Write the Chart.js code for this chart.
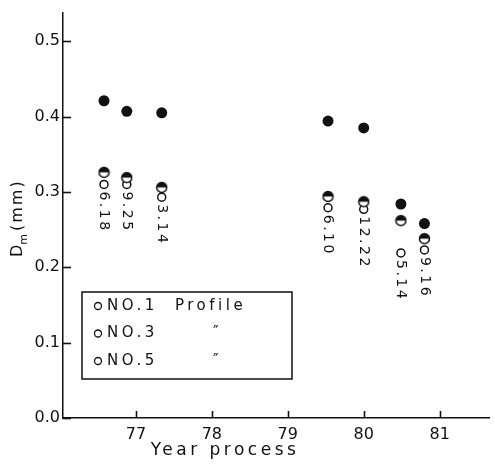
<!DOCTYPE html>
<html>
<head>
<meta charset="utf-8">
<script src="https://cdn.jsdelivr.net/npm/chart.js@4"></script>
<style>
  html, body { margin: 0; padding: 0; background: #fff; }
  #c { display: block; }
</style>
</head>
<body>
<canvas id="c" width="495" height="464"></canvas>
<script>
// ── Dm por perfil ao longo do processo ──

const years  = [76.58, 76.88, 77.34, 79.53, 80.0, 80.49, 80.8];
const no1    = [0.421, 0.407, 0.405, 0.394, 0.385, 0.284, 0.258];
const no3    = [0.326, 0.319, 0.306, 0.294, 0.287, 0.262, 0.238];
const no5    = [0.310, 0.310, 0.293, 0.279, 0.277, 0.219, 0.223];
const dates  = ['6.18', '9.25', '3.14', '6.10', '12.22', '5.14', '9.16'];
const xTicks = [77, 78, 79, 80, 81];
const yTicks = [0, 0.1, 0.2, 0.3, 0.4, 0.5];
const legendRows = [
  { name: 'NO.1', note: 'Profile' },
  { name: 'NO.3', note: '\u2033' },
  { name: 'NO.5', note: '\u2033' }
];

const FONT = '"DejaVu Sans", sans-serif';
const INK  = '#111';

// half filled marker (top half black)
function halfDot(r) {
  const c = document.createElement('canvas');
  const s = Math.ceil(r * 2 + 3);
  c.width = s; c.height = s;
  const g = c.getContext('2d');
  const m = s / 2;
  g.fillStyle = '#fff';
  g.beginPath(); g.arc(m, m, r, 0, Math.PI * 2); g.fill();
  g.fillStyle = INK;
  g.beginPath(); g.arc(m, m, r, Math.PI, 0); g.closePath(); g.fill();
  g.strokeStyle = INK; g.lineWidth = 1.5;
  g.beginPath(); g.arc(m, m, r, 0, Math.PI * 2); g.stroke();
  return c;
}

const pts = arr => years.map((x, i) => ({ x, y: arr[i] }));

// inward tick marks
const inwardTicks = {
  id: 'inwardTicks',
  afterDatasetsDraw(chart) {
    const ctx = chart.ctx;
    const xs = chart.scales.x, ys = chart.scales.y;
    const area = chart.chartArea;
    ctx.save();
    ctx.strokeStyle = INK;
    ctx.lineWidth = 1.6;
    yTicks.forEach(v => {
      const py = Math.round(ys.getPixelForValue(v)) + 0.5;
      ctx.beginPath(); ctx.moveTo(area.left, py); ctx.lineTo(area.left + 8, py); ctx.stroke();
    });
    xTicks.forEach(v => {
      const px = Math.round(xs.getPixelForValue(v)) + 0.5;
      ctx.beginPath(); ctx.moveTo(px, area.bottom); ctx.lineTo(px, area.bottom - 7); ctx.stroke();
    });
    ctx.restore();
  }
};

const decor = {
  id: 'decor',
  afterDraw(chart) {
    const { ctx, scales: { x, y } } = chart;
    ctx.save();
    ctx.strokeStyle = INK;
    ctx.fillStyle = INK;

    // date labels, written downwards below each open circle
    ctx.font = '14px ' + FONT;
    ctx.letterSpacing = '2.5px';
    ctx.textAlign = 'left';
    ctx.textBaseline = 'middle';
    dates.forEach((d, i) => {
      const px = x.getPixelForValue(years[i]);
      const py = y.getPixelForValue(no5[i]) + 7;
      ctx.save();
      ctx.translate(px, py);
      ctx.rotate(Math.PI / 2);
      ctx.fillText(d, 0, 0);
      ctx.restore();
    });

    // legend box
    ctx.lineWidth = 1.5;
    ctx.strokeRect(82, 292, 210, 87);
    ctx.font = '15px ' + FONT;
    ctx.letterSpacing = '3.5px';
    legendRows.forEach((r, i) => {
      const ly = 306 + i * 27.5;
      ctx.lineWidth = 1.3;
      ctx.beginPath(); ctx.arc(98, ly, 3.5, 0, Math.PI * 2); ctx.stroke();
      ctx.fillText(r.name, 107, ly);
      ctx.fillText(r.note, i === 0 ? 175 : 213, ly);
    });

    // axis titles
    ctx.font = '17px ' + FONT;
    ctx.letterSpacing = '3.5px';
    ctx.textAlign = 'center';
    ctx.fillText('Year process', 225, 451);

    ctx.save();
    ctx.translate(22, 257);
    ctx.rotate(-Math.PI / 2);
    ctx.textAlign = 'left';
    ctx.textBaseline = 'alphabetic';
    ctx.letterSpacing = '0px';
    ctx.font = '16px ' + FONT;
    ctx.fillText('D', 0, 0);
    let w = ctx.measureText('D').width;
    ctx.font = '11px ' + FONT;
    ctx.fillText('m', w, 5);
    w += ctx.measureText('m').width + 3;
    ctx.font = '16px ' + FONT;
    ctx.letterSpacing = '2px';
    ctx.fillText('(mm)', w, 0);
    ctx.restore();

    ctx.restore();
  }
};

new Chart(document.getElementById('c'), {
  type: 'scatter',
  data: {
    datasets: [
      { label: 'NO.1', data: pts(no1), pointStyle: 'circle', pointRadius: 5.5,
        backgroundColor: INK, borderColor: INK, borderWidth: 0 },
      { label: 'NO.3', data: pts(no3), pointStyle: halfDot(5), pointRadius: 5 },
      { label: 'NO.5', data: pts(no5), pointStyle: 'circle', pointRadius: 4,
        backgroundColor: '#fff', borderColor: INK, borderWidth: 1.5 }
    ]
  },
  options: {
    responsive: false,
    animation: false,
    events: [],
    layout: { padding: { top: 5, right: 0, bottom: 0, left: 0 } },
    plugins: { legend: { display: false }, tooltip: { enabled: false } },
    scales: {
      x: {
        type: 'linear', min: 76.04, max: 81.65,
        afterBuildTicks: s => { s.ticks = xTicks.map(v => ({ value: v })); },
        afterFit: s => { s.height = 46; },
        grid: { display: false, drawTicks: false },
        border: { display: true, color: INK, width: 1.5 },
        ticks: { color: INK, padding: 7, maxRotation: 0, font: { family: FONT, size: 16 } }
      },
      y: {
        type: 'linear', min: 0, max: 0.538,
        afterBuildTicks: s => { s.ticks = yTicks.map(v => ({ value: v })); },
        afterFit: s => { s.width = 63; },
        grid: { display: false, drawTicks: false },
        border: { display: true, color: INK, width: 1.5 },
        ticks: { color: INK, padding: 3, font: { family: FONT, size: 16 },
                 callback: v => Number(v).toFixed(1) }
      }
    }
  },
  plugins: [inwardTicks, decor]
});
</script>
</body>
</html>
